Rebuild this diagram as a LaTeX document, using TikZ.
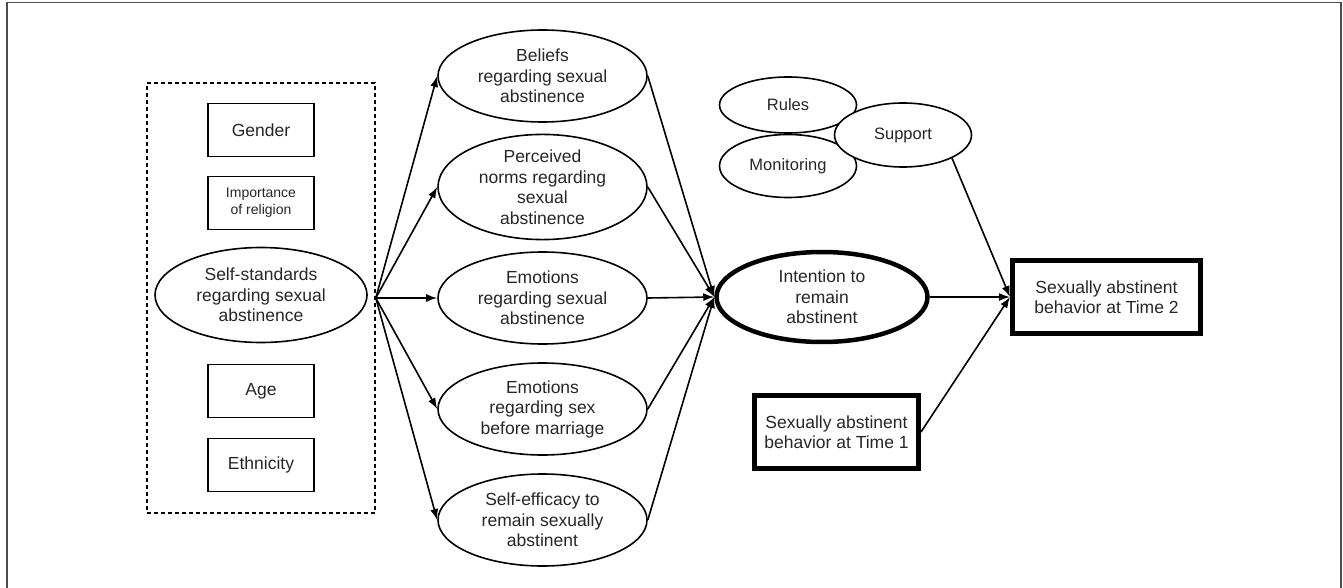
\documentclass[tikz,border=0pt]{standalone}
\usepackage{fontspec}
\setmainfont{Liberation Sans}
\usetikzlibrary{arrows.meta,shapes.geometric,positioning}

\begin{document}
\begin{tikzpicture}[x=1pt,y=-1pt,>={Latex[length=11pt,width=8pt]},
    every node/.style={font=\fontsize{17.5}{20.5}\selectfont,align=center,inner sep=0pt,text=black!85},
    var/.style={draw,line width=1.6pt,ellipse,minimum width=209pt,minimum height=92pt},
    ctx/.style={draw,line width=1.6pt,ellipse,minimum width=137pt,font=\fontsize{16.5}{19}\selectfont},
    cov/.style={draw,line width=1.6pt,rectangle,minimum width=106pt,minimum height=53pt},
    outcome/.style={draw,line width=5pt,rectangle,minimum height=73pt},
    path/.style={->,line width=1.6pt}]
  \useasboundingbox (0,0) rectangle (1343,588);
  % frame round the figure
  \draw[line width=1.5pt,gray!60!black] (7,600) -- (7,2.5) -- (1341,2.5) -- (1341,600);

  % background variables
  \node[draw,dash pattern=on 4pt off 3pt,line width=1.6pt,minimum width=228pt,minimum height=430pt] (bg) at (261,298) {};
  \node[cov] (gender) at (261,130) {Gender};
  \node[cov,font=\fontsize{14}{17}\selectfont] (relig) at (261,203) {Importance\\of religion};
  \node[draw,line width=1.6pt,ellipse,minimum width=212pt,minimum height=95pt] (selfstd) at (261,295)
    {Self-standards\\regarding sexual\\abstinence};
  \node[cov] (age) at (261,391) {Age};
  \node[cov] (ethn) at (261,465) {Ethnicity};

  % mediators
  \node[var] (belief) at (542.5,76) {Beliefs\\regarding sexual\\abstinence};
  \node[var] (norms) at (542.5,187) {Perceived\\norms regarding\\sexual\\abstinence};
  \node[var] (emosa) at (542.5,298) {Emotions\\regarding sexual\\abstinence};
  \node[var] (emosbm) at (542.5,409) {Emotions\\regarding sex\\before marriage};
  \node[var] (effic) at (542.5,520) {Self-efficacy to\\remain sexually\\abstinent};

  % intention and parental context
  \node[draw,line width=4.5pt,ellipse,minimum width=211pt,minimum height=90pt] (intent) at (822,297)
    {Intention to\\remain\\abstinent};
  \node[ctx,minimum height=56pt] (rules) at (788,105) {Rules};
  \node[ctx,minimum height=63pt] (monit) at (788,166) {Monitoring};
  \node[ctx,minimum height=64pt,fill=white] (supp) at (903,135) {Support};

  % behavior
  \node[outcome,minimum width=188pt] (time2) at (1106.5,297) {Sexually abstinent\\behavior at Time 2};
  \node[outcome,minimum width=164pt] (time1) at (836.5,432) {Sexually abstinent\\behavior at Time 1};

  % paths
  \foreach \m in {belief,norms,emosa,emosbm,effic} {
    \draw[path] (bg.east) -- (\m.west);
    \draw[path] (\m.east) -- (intent.west);
  }
  \draw[path] (intent.east) -- (time2.west);
  \draw[path] (supp.south east) -- (time2.west);
  \draw[path] (time1.east) -- (time2.west);
\end{tikzpicture}
\end{document}
